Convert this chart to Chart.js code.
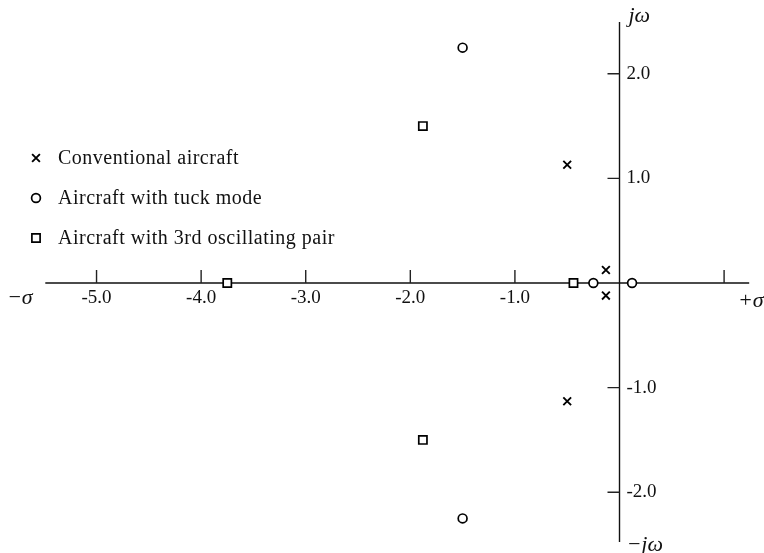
<!DOCTYPE html>
<html>
<head>
<meta charset="utf-8">
<script src="https://cdn.jsdelivr.net/npm/chart.js@4"></script>
<style>
  html, body { margin: 0; padding: 0; background: #fff; }
  #wrap { width: 764px; height: 553px; }
</style>
</head>
<body>
<div id="wrap"><canvas id="splane" width="764" height="553"></canvas></div>
<script>
// s-plane roots (sigma = real part, omega = imaginary part)
const conventionalSigma = [-0.5, -0.5, -0.13, -0.13];
const conventionalOmega = [1.13, -1.13, 0.125, -0.12];
const tuckSigma = [-1.5, -1.5, -0.25, 0.12];
const tuckOmega = [2.25, -2.25, 0, 0];
const thirdPairSigma = [-1.88, -1.88, -3.75, -0.44];
const thirdPairOmega = [1.5, -1.5, 0, 0];

const seriesNames = ['Conventional aircraft', 'Aircraft with tuck mode', 'Aircraft with 3rd oscillating pair'];

const sigmaTicks = [-5, -4, -3, -2, -1, 1];
const sigmaTickLabels = ['-5.0', '-4.0', '-3.0', '-2.0', '-1.0', ''];
const omegaTicks = [2, 1, -1, -2];
const omegaTickLabels = ['2.0', '1.0', '-1.0', '-2.0'];

const FONT = '"Liberation Serif", "Times New Roman", serif';

function toPoints(xs, ys) {
    return xs.map((x, i) => ({ x: x, y: ys[i] }));
}

// axes, ticks and labels drawn through the chart's own scales
const splaneAxes = {
    id: 'splaneAxes',
    beforeDatasetsDraw(chart) {
        const ctx = chart.ctx;
        const xs = chart.scales.x, ys = chart.scales.y;
        const x0 = xs.getPixelForValue(0), y0 = ys.getPixelForValue(0);
        ctx.save();
        ctx.strokeStyle = '#111';
        ctx.lineWidth = 1.4;
        ctx.beginPath();
        ctx.moveTo(xs.getPixelForValue(-5.49), y0);
        ctx.lineTo(xs.getPixelForValue(1.24), y0);
        ctx.moveTo(x0, ys.getPixelForValue(2.495));
        ctx.lineTo(x0, ys.getPixelForValue(-2.476));
        ctx.stroke();

        ctx.strokeStyle = '#222';
        ctx.lineWidth = 1.4;
        ctx.beginPath();
        sigmaTicks.forEach(t => {
            const px = xs.getPixelForValue(t);
            ctx.moveTo(px, y0);
            ctx.lineTo(px, y0 - 13);
        });
        omegaTicks.forEach(t => {
            const py = ys.getPixelForValue(t);
            ctx.moveTo(x0, py);
            ctx.lineTo(x0 - 12, py);
        });
        ctx.stroke();

        ctx.fillStyle = '#111';
        ctx.font = '19px ' + FONT;
        ctx.textBaseline = 'middle';
        ctx.textAlign = 'center';
        sigmaTicks.forEach((t, i) => {
            ctx.fillText(sigmaTickLabels[i], xs.getPixelForValue(t), y0 + 15);
        });
        ctx.textAlign = 'left';
        omegaTicks.forEach((t, i) => {
            ctx.fillText(omegaTickLabels[i], x0 + 7, ys.getPixelForValue(t));
        });

        ctx.font = 'italic 22px ' + FONT;
        ctx.fillText('\u2212\u03c3', 7, y0 + 15);
        ctx.fillText('+\u03c3', 738, y0 + 18);
        ctx.fillText('j\u03c9', x0 + 9, 16);
        ctx.fillText('\u2212j\u03c9', x0 + 7, 545);
        ctx.restore();
    },
    afterDraw(chart) {
        const ctx = chart.ctx;
        ctx.save();
        ctx.font = '20px ' + FONT;
        ctx.letterSpacing = '0.5px';
        ctx.textBaseline = 'middle';
        ctx.textAlign = 'left';
        chart.data.datasets.forEach((ds, i) => {
            const y = 158 + i * 40;
            ctx.strokeStyle = ds.borderColor;
            ctx.fillStyle = ds.backgroundColor;
            ctx.lineWidth = ds.borderWidth;
            Chart.helpers.drawPoint(ctx, {
                pointStyle: ds.pointStyle,
                radius: ds.pointRadius,
                borderWidth: ds.borderWidth,
                rotation: 0
            }, 36, y);
            ctx.fillStyle = '#111';
            ctx.fillText(ds.label, 58, y + 1);
        });
        ctx.restore();
    }
};

new Chart(document.getElementById('splane'), {
    type: 'scatter',
    data: {
        datasets: [
            {
                label: seriesNames[0],
                data: toPoints(conventionalSigma, conventionalOmega),
                pointStyle: 'crossRot',
                pointRadius: 5.5,
                borderWidth: 1.9,
                borderColor: '#000',
                backgroundColor: '#fff'
            },
            {
                label: seriesNames[1],
                data: toPoints(tuckSigma, tuckOmega),
                pointStyle: 'circle',
                pointRadius: 4.4,
                borderWidth: 1.7,
                borderColor: '#000',
                backgroundColor: '#fff'
            },
            {
                label: seriesNames[2],
                data: toPoints(thirdPairSigma, thirdPairOmega),
                pointStyle: 'rect',
                pointRadius: 5.8,
                borderWidth: 1.7,
                borderColor: '#000',
                backgroundColor: '#fff'
            }
        ]
    },
    options: {
        responsive: false,
        animation: false,
        layout: { padding: 0, autoPadding: false },
        plugins: {
            legend: { display: false },
            tooltip: { enabled: false }
        },
        scales: {
            x: { type: 'linear', min: -5.923, max: 1.3815, display: false },
            y: { type: 'linear', min: -2.581, max: 2.7055, display: false }
        }
    },
    plugins: [splaneAxes]
});
</script>
</body>
</html>
